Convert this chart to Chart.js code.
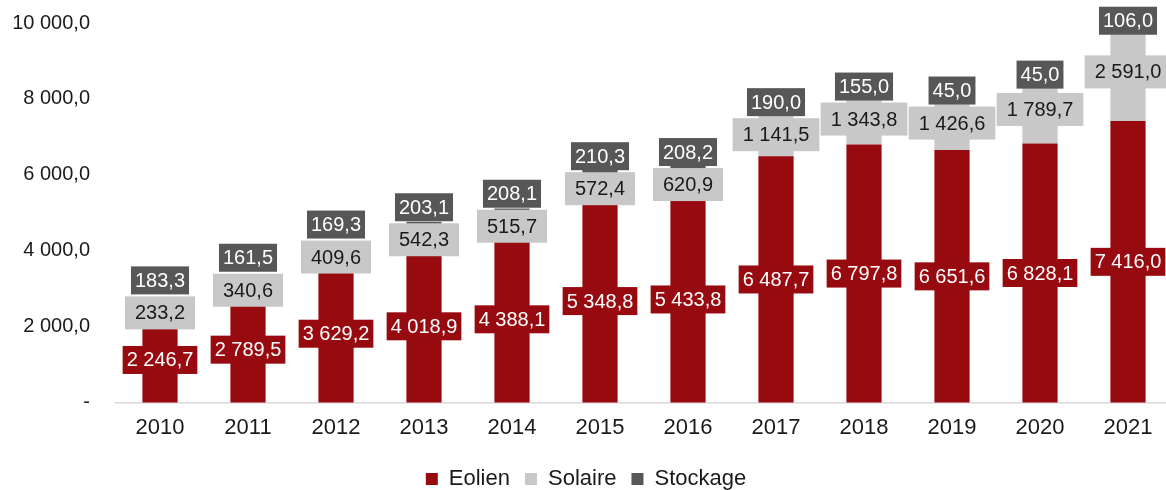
<!DOCTYPE html>
<html>
<head>
<meta charset="utf-8">
<script src="https://cdn.jsdelivr.net/npm/chart.js@4.4.1/dist/chart.umd.min.js"></script>
<style>
html, body { margin: 0; padding: 0; overflow: hidden; background: #fff; }
#wrap { position: relative; width: 1172px; height: 500px; }
</style>
</head>
<body>
<div id="wrap"><canvas id="chart"></canvas></div>
<script>
var years = ['2010', '2011', '2012', '2013', '2014', '2015', '2016', '2017', '2018', '2019', '2020', '2021'];
var eolien = [2246.7, 2789.5, 3629.2, 4018.9, 4388.1, 5348.8, 5433.8, 6487.7, 6797.8, 6651.6, 6828.1, 7416.0];
var solaire = [233.2, 340.6, 409.6, 542.3, 515.7, 572.4, 620.9, 1141.5, 1343.8, 1426.6, 1789.7, 2591.0];
var stockage = [183.3, 161.5, 169.3, 203.1, 208.1, 210.3, 208.2, 190.0, 155.0, 45.0, 45.0, 106.0];
var yTicks = [0, 2000, 4000, 6000, 8000, 10000];

var barColors = ['#960a10', '#c8c8c8', '#575757'];
var textColors = ['#ffffff', '#1a1a1a', '#ffffff'];
var FONT = '"Liberation Sans", Arial, sans-serif';

// 2 246,7 style
function fmt(v) {
    var parts = v.toFixed(1).split('.');
    return parts[0].replace(/\B(?=(\d{3})+(?!\d))/g, ' ') + ',' + parts[1];
}

// boxed value labels, pushed up when they would overlap the one below
var boxLabels = {
    id: 'boxLabels',
    afterDatasetsDraw: function (chart) {
        var ctx = chart.ctx;
        var size = 20;
        var padX = [4, 10, 4];
        var padY = [4, 6.5, 4];
        ctx.save();
        ctx.font = size + 'px ' + FONT;
        ctx.textAlign = 'center';
        ctx.textBaseline = 'middle';
        for (var j = 0; j < years.length; j++) {
            var lastTop = Infinity;
            for (var i = 0; i < chart.data.datasets.length; i++) {
                var el = chart.getDatasetMeta(i).data[j];
                var txt = fmt(chart.data.datasets[i].data[j]);
                var w = ctx.measureText(txt).width + padX[i] * 2;
                var h = size + padY[i] * 2;
                var cy = (el.y + el.base) / 2;
                if (cy + h / 2 > lastTop - 2) cy = lastTop - 2 - h / 2;
                lastTop = cy - h / 2;
                ctx.fillStyle = barColors[i];
                ctx.fillRect(el.x - w / 2, cy - h / 2, w, h);
                ctx.fillStyle = textColors[i];
                ctx.fillText(txt, el.x, cy + 1);
            }
        }
        ctx.restore();
    }
};

new Chart(document.getElementById('chart'), {
    type: 'bar',
    data: {
        labels: years,
        datasets: [
            { label: 'Eolien', data: eolien, backgroundColor: barColors[0] },
            { label: 'Solaire', data: solaire, backgroundColor: barColors[1] },
            { label: 'Stockage', data: stockage, backgroundColor: barColors[2] }
        ]
    },
    options: {
        responsive: true,
        maintainAspectRatio: false,
        animation: false,
        clip: false,
        categoryPercentage: 0.8,
        barPercentage: 0.5,
        layout: { padding: { left: 0, top: 23, right: 0, bottom: 0 } },
        plugins: {
            legend: {
                position: 'bottom',
                labels: {
                    boxWidth: 12,
                    boxHeight: 12,
                    padding: 15,
                    color: '#1a1a1a',
                    font: { family: FONT, size: 22 }
                }
            },
            tooltip: { enabled: false }
        },
        scales: {
            x: {
                stacked: true,
                grid: { display: false, drawTicks: false },
                border: { display: true, color: '#d9d9d9', width: 1.5 },
                ticks: { color: '#1a1a1a', padding: 12, font: { family: FONT, size: 22 } }
            },
            y: {
                stacked: true,
                min: 0,
                max: 10000,
                grid: { display: false, drawTicks: false },
                border: { display: false },
                afterBuildTicks: function (axis) {
                    axis.ticks = yTicks.map(function (v) { return { value: v }; });
                },
                afterFit: function (axis) {
                    axis.width = 116;
                    axis.paddingTop = 0;
                    axis.paddingBottom = 0;
                },
                ticks: {
                    color: '#1a1a1a',
                    padding: 26,
                    font: { family: FONT, size: 20 },
                    callback: function (v) { return v === 0 ? '-' : fmt(v); }
                }
            }
        }
    },
    plugins: [boxLabels]
});
</script>
</body>
</html>
